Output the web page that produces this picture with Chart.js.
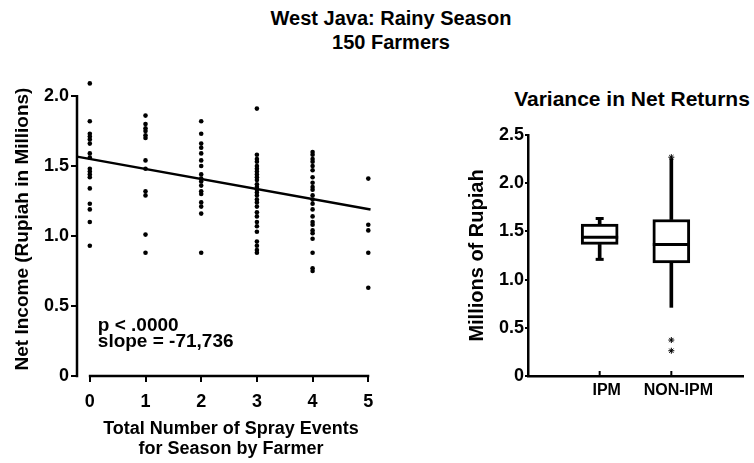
<!DOCTYPE html>
<html>
<head>
<meta charset="utf-8">
<script src="https://cdn.jsdelivr.net/npm/chart.js@4.4.1/dist/chart.umd.min.js"></script>
<style>
  body { margin: 0; background: #fff; width: 754px; height: 463px; position: relative; overflow: hidden;
         font-family: "Liberation Sans", Arial, sans-serif; }
  .ttl { position: absolute; text-align: center; font-weight: bold; color: #000; }
  #leftWrap { position: absolute; left: 0; top: 0; width: 400px; height: 463px; }
  #rightWrap { position: absolute; left: 430px; top: 80px; width: 324px; height: 383px; }
</style>
</head>
<body>
<div class="ttl" style="left:0;top:7px;width:782px;font-size:20px;line-height:23.5px;">West Java: Rainy Season<br>150 Farmers</div>
<div class="ttl" style="left:502px;top:87px;width:260px;font-size:21px;line-height:24px;">Variance in Net Returns</div>
<div id="leftWrap"><canvas id="scatterChart"></canvas></div>
<div id="rightWrap"><canvas id="boxChart"></canvas></div>
<script>
// --- left chart: net income by number of sprays (millions of rupiah)
const sprayCounts = [0, 1, 2, 3, 4, 5];
const income0 = [2.09, 1.82, 1.73, 1.71, 1.69, 1.66, 1.59, 1.56, 1.48, 1.46, 1.44, 1.42, 1.34, 1.23, 1.19, 1.10, 0.93];
const income1 = [1.86, 1.80, 1.77, 1.75, 1.72, 1.70, 1.54, 1.48, 1.32, 1.29, 1.01, 0.88];
const income2 = [1.82, 1.73, 1.66, 1.63, 1.59, 1.54, 1.50, 1.44, 1.41, 1.39, 1.36, 1.32, 1.30, 1.24, 1.21, 1.16, 0.88];
const income3 = [1.91, 1.58, 1.55, 1.53, 1.50, 1.48, 1.46, 1.44, 1.42, 1.40, 1.37, 1.35, 1.33, 1.31, 1.29, 1.26,
                 1.24, 1.21, 1.17, 1.14, 1.10, 1.07, 1.03, 0.96, 0.93, 0.90, 0.88];
const income4 = [1.60, 1.58, 1.55, 1.53, 1.50, 1.47, 1.42, 1.38, 1.35, 1.33, 1.29, 1.26, 1.23, 1.19, 1.14, 1.10,
                 1.08, 1.04, 1.02, 0.98, 0.88, 0.77, 0.75];
const income5 = [1.41, 1.08, 1.04, 0.88, 0.63];
const incomeBySpray = [income0, income1, income2, income3, income4, income5];
const fitX = [-0.23, 5.04];     // regression line ends
const fitY = [1.567, 1.19];
const leftYTicks = [0, 0.5, 1, 1.5, 2];
const noteLines = ['p < .0000', 'slope = -71,736'];

// --- right chart: box plot
const groups = ['IPM', 'NON-IPM'];
const q1 = [1.365, 1.174];
const q3 = [1.575, 1.623];
const medians = [1.44, 1.365];
const lowWhisker = [1.21, 0.712];
const highWhisker = [1.634, 2.255];
const hasCaps = [true, false];
const outlierGroups = ['NON-IPM', 'NON-IPM', 'NON-IPM'];
const outlierValues = [2.27, 0.373, 0.262];
const rightYTicks = [0, 0.5, 1, 1.5, 2, 2.5];

const FONT = '"Liberation Sans", Arial, sans-serif';
Chart.defaults.font.family = FONT;
Chart.defaults.color = '#000';

const fmt = v => v === 0 ? '0' : v.toFixed(1);

// axis lines only between first and last tick, plus the p / slope note
const leftAxesPlugin = {
  id: 'leftAxes',
  afterDraw(chart) {
    const { ctx, chartArea, scales: { x, y } } = chart;
    ctx.save();
    ctx.strokeStyle = '#000';
    ctx.lineWidth = 2.5;
    ctx.beginPath();
    ctx.moveTo(x.getPixelForValue(sprayCounts[0]) - 1, chartArea.bottom);
    ctx.lineTo(x.getPixelForValue(sprayCounts[sprayCounts.length - 1]) + 1, chartArea.bottom);
    ctx.stroke();
    ctx.beginPath();
    ctx.moveTo(chartArea.left, y.getPixelForValue(leftYTicks[0]) + 1.25);
    ctx.lineTo(chartArea.left, y.getPixelForValue(leftYTicks[leftYTicks.length - 1]) - 1);
    ctx.stroke();
    ctx.fillStyle = '#000';
    ctx.font = 'bold 19px ' + FONT;
    ctx.textBaseline = 'middle';
    const nx = x.getPixelForValue(0) + 8;
    noteLines.forEach((t, i) => ctx.fillText(t, nx, y.getPixelForValue(0.36) + i * 16));
    ctx.restore();
  }
};

const scatterPoints = incomeBySpray.flatMap((vals, i) => vals.map(v => ({ x: sprayCounts[i], y: v })));

new Chart(document.getElementById('scatterChart'), {
  type: 'scatter',
  data: {
    datasets: [
      {
        data: scatterPoints,
        backgroundColor: '#000',
        borderColor: '#000',
        pointRadius: 2.3,
        borderWidth: 0,
        clip: false
      },
      {
        type: 'line',
        data: fitX.map((v, i) => ({ x: v, y: fitY[i] })),
        borderColor: '#000',
        borderWidth: 2.5,
        pointRadius: 0,
        fill: false,
        clip: false
      }
    ]
  },
  options: {
    responsive: true,
    maintainAspectRatio: false,
    animation: false,
    layout: { padding: { left: 0, top: 82, right: 15, bottom: 0 } },
    plugins: { legend: { display: false }, tooltip: { enabled: false } },
    scales: {
      x: {
        type: 'linear',
        min: -0.23,
        max: 5.3,
        afterBuildTicks: s => { s.ticks = sprayCounts.map(v => ({ value: v })); },
        afterFit: s => { s.height = 87; },
        ticks: { font: { size: 18, weight: 'bold' }, padding: 9, autoSkip: false, maxRotation: 0 },
        grid: { drawOnChartArea: false, drawTicks: true, tickLength: 6, lineWidth: 2, color: '#000' },
        border: { display: false },
        title: {
          display: true,
          text: ['Total Number of Spray Events', 'for Season by Farmer'],
          font: { size: 18, weight: 'bold', lineHeight: 1.1 },
          padding: { top: 0, bottom: 4 }
        }
      },
      y: {
        min: 0,
        max: 2.1,
        afterBuildTicks: s => { s.ticks = leftYTicks.map(v => ({ value: v })); },
        afterFit: s => { s.width = 77; },
        ticks: { font: { size: 18, weight: 'bold' }, padding: 2, callback: v => fmt(v) },
        grid: { drawOnChartArea: false, drawTicks: true, tickLength: 6, lineWidth: 2, color: '#000' },
        border: { display: false },
        title: {
          display: true,
          text: 'Net Income (Rupiah in Millions)',
          font: { size: 19, weight: 'bold' },
          padding: { top: 11, bottom: 0 }
        }
      }
    }
  },
  plugins: [leftAxesPlugin]
});

// medians, whisker caps and inward ticks on the category axis
const boxPlugin = {
  id: 'boxExtras',
  afterDatasetsDraw(chart) {
    const { ctx, chartArea, scales: { x, y } } = chart;
    const boxes = chart.getDatasetMeta(0).data;
    ctx.save();
    ctx.strokeStyle = '#000';
    ctx.lineWidth = 3;
    boxes.forEach((bar, i) => {
      const half = bar.width / 2;
      const my = y.getPixelForValue(medians[i]);
      ctx.beginPath(); ctx.moveTo(bar.x - half, my); ctx.lineTo(bar.x + half, my); ctx.stroke();
      if (hasCaps[i]) {
        [lowWhisker[i], highWhisker[i]].forEach(v => {
          const cy = y.getPixelForValue(v);
          ctx.beginPath(); ctx.moveTo(bar.x - 4, cy); ctx.lineTo(bar.x + 4, cy); ctx.stroke();
        });
      }
    });
    ctx.lineWidth = 2;
    groups.forEach((g, i) => {
      const px = x.getPixelForValue(i + 1);
      ctx.beginPath(); ctx.moveTo(px, chartArea.bottom); ctx.lineTo(px, chartArea.bottom - 5); ctx.stroke();
    });
    ctx.restore();
  }
};

new Chart(document.getElementById('boxChart'), {
  type: 'bar',
  data: {
    datasets: [
      {
        data: groups.map((g, i) => ({ x: i + 1, y: [q1[i], q3[i]] })),
        backgroundColor: '#fff',
        borderColor: '#000',
        borderWidth: 3,
        borderSkipped: false,
        barThickness: 37,
        grouped: false
      },
      {
        data: groups.map((g, i) => ({ x: i + 1, y: [lowWhisker[i], q1[i]] })),
        backgroundColor: '#000',
        borderWidth: 0,
        barThickness: 3,
        grouped: false
      },
      {
        data: groups.map((g, i) => ({ x: i + 1, y: [q3[i], highWhisker[i]] })),
        backgroundColor: '#000',
        borderWidth: 0,
        barThickness: 3,
        grouped: false
      },
      {
        type: 'scatter',
        data: outlierValues.map((v, i) => ({ x: groups.indexOf(outlierGroups[i]) + 1, y: v })),
        pointStyle: 'star',
        pointRadius: 3,
        borderColor: '#000',
        backgroundColor: '#000',
        borderWidth: 1,
        clip: false
      }
    ]
  },
  options: {
    responsive: true,
    maintainAspectRatio: false,
    animation: false,
    layout: { padding: { left: 0, top: 55, right: 11, bottom: 0 } },
    plugins: { legend: { display: false }, tooltip: { enabled: false } },
    scales: {
      x: {
        type: 'linear',
        offset: false,
        min: 0,
        max: 3,
        afterBuildTicks: s => { s.ticks = groups.map((g, i) => ({ value: i + 1 })); },
        afterFit: s => { s.height = 87; },
        ticks: { font: { size: 16, weight: 'bold' }, padding: 5, autoSkip: false, maxRotation: 0,
                 labelOffset: 7, callback: (v, i) => groups[i] },
        grid: { display: false, drawTicks: false, offset: false },
        border: { display: true, width: 2.5, color: '#000' }
      },
      y: {
        min: 0,
        max: 2.5,
        afterBuildTicks: s => { s.ticks = rightYTicks.map(v => ({ value: v })); },
        afterFit: s => { s.width = 98; },
        ticks: { font: { size: 18, weight: 'bold' }, padding: 1, callback: v => fmt(v) },
        grid: { drawOnChartArea: false, drawTicks: true, tickLength: 3, lineWidth: 2, color: '#000' },
        border: { display: true, width: 2.5, color: '#000' },
        title: {
          display: true,
          text: 'Millions of Rupiah',
          font: { size: 20, weight: 'bold' },
          padding: { top: 35, bottom: 0 }
        }
      }
    }
  },
  plugins: [boxPlugin]
});
</script>
</body>
</html>
